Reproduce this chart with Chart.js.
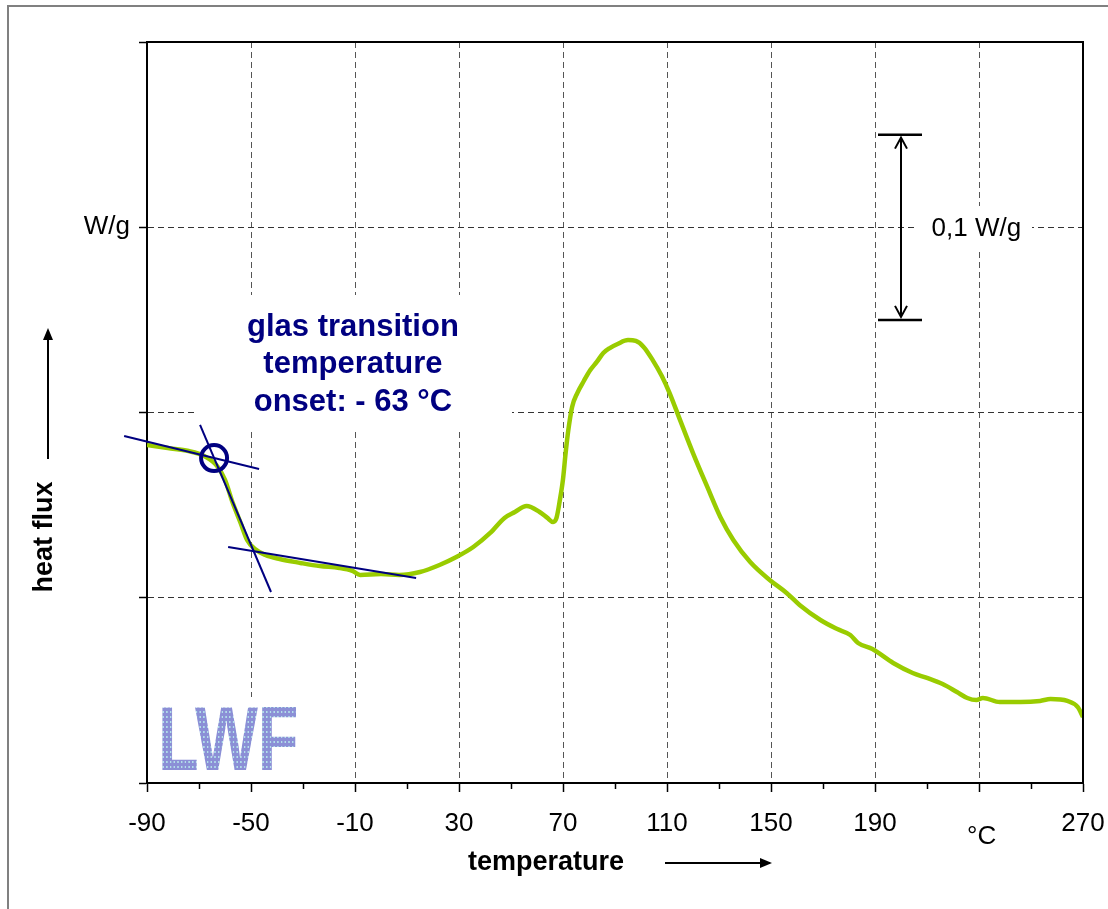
<!DOCTYPE html>
<html>
<head>
<meta charset="utf-8">
<title>DSC - glass transition</title>
<script src="https://cdn.jsdelivr.net/npm/chart.js@4.4.0/dist/chart.umd.min.js"></script>
<style>
    html, body { margin: 0; padding: 0; background: #fff; }
    #wrap { width: 1108px; height: 909px; position: relative; }
</style>
</head>
<body>
<div id="wrap"><canvas id="dscChart" width="1108" height="909"></canvas></div>
<script>
// ===== DATA =====
const tempC = [
    -90, -82, -74, -68, -63, -60, -57, -54, -51.5, -48.5, -44.5, -39, -31, -23.5, -16, -11, -8,
    0, 7, 15, 22.5, 29, 35.5, 42, 47.5, 51.5, 56, 61, 64, 66.2, 67.5, 68.8, 70, 71, 72, 73.5,
    75.5, 78, 80.5, 83, 85.5, 88, 91, 95, 98, 101, 104.5, 108, 111, 115, 120, 125.5, 130.5,
    135.5, 142, 149.5, 156, 161, 169, 175.5, 180.5, 183.5, 189, 197, 204.5, 210, 216, 221.5,
    225.5, 229, 231.5, 238, 246, 253.5, 257.5, 264, 268, 270
];
const heatFlux = [
    0.1825, 0.1808, 0.1792, 0.1765, 0.1711, 0.1636, 0.1511, 0.1404, 0.1312, 0.1263, 0.1231, 0.1209, 0.1188, 0.1171, 0.1161, 0.1145, 0.1123,
    0.1128, 0.1123, 0.1139, 0.1177, 0.1220, 0.1274, 0.1350, 0.1431, 0.1463, 0.1495, 0.1463, 0.1431, 0.1409, 0.1431, 0.1528, 0.1640, 0.1780, 0.1900, 0.2030,
    0.2105, 0.2170, 0.2229, 0.2273, 0.2321, 0.2348, 0.2370, 0.2391, 0.2386, 0.2354, 0.2283, 0.2197, 0.2105, 0.1960, 0.1781, 0.1598, 0.1436,
    0.1312, 0.1193, 0.1096, 0.1026, 0.0961, 0.0880, 0.0831, 0.0799, 0.0756, 0.0723, 0.0648, 0.0594, 0.0567, 0.0534, 0.0491,
    0.0459, 0.0448, 0.0459, 0.0437, 0.0437, 0.0443, 0.0453, 0.0443, 0.0410, 0.0356
];

const xTickValues = [-90, -50, -10, 30, 70, 110, 150, 190, 230, 270];
const xTickLabels = ['-90', '-50', '-10', '30', '70', '110', '150', '190', '', '270'];
const xMinorTicks = [-70, -30, 10, 50, 90, 130, 170, 210, 250];
const yTickValues = [0, 0.1, 0.2, 0.3, 0.4];
const yTickLabels = ['', '', '', 'W/g', ''];

// tangent construction for the onset
const tangentBeforeX = [-98.8, -46.9];
const tangentBeforeY = [0.1873, 0.1695];
const tangentStepX = [-69.6, -42.3];
const tangentStepY = [0.1933, 0.1031];
const tangentAfterX = [-58.8, 13.5];
const tangentAfterY = [0.1274, 0.1107];
const onsetX = -64.2;
const onsetY = 0.1754;

// 0,1 W/g scale bar
const scaleBarX = 200;
const scaleBarY = [0.25, 0.35];
const scaleBarLabel = '0,1 W/g';

const noteLines = ['glas transition', 'temperature', 'onset: - 63 °C'];

const FONT = "Arial, 'Liberation Sans', sans-serif";
const NAVY = '#000080';
const GREEN = '#99CC00';

function toPoints(xs, ys) {
    return xs.map((x, i) => ({ x: x, y: ys[i] }));
}

function drawArrowHead(ctx, x, y, angle, len, half, filled) {
    ctx.beginPath();
    ctx.moveTo(x - len * Math.cos(angle) + half * Math.sin(angle), y - len * Math.sin(angle) - half * Math.cos(angle));
    ctx.lineTo(x, y);
    ctx.lineTo(x - len * Math.cos(angle) - half * Math.sin(angle), y - len * Math.sin(angle) + half * Math.cos(angle));
    if (filled) {
        ctx.closePath();
        ctx.fill();
    } else {
        ctx.stroke();
    }
}

function makeDotPattern(ctx) {
    const c = document.createElement('canvas');
    c.width = 5; c.height = 5;
    const p = c.getContext('2d');
    p.fillStyle = '#8b8fd6';
    p.fillRect(0, 0, 5, 5);
    p.fillStyle = '#b2dfea';
    p.fillRect(1, 1, 2, 2);
    return ctx.createPattern(c, 'repeat');
}

// ===== DECORATIONS PLUGIN =====
const decorations = {
    id: 'decorations',
    beforeDatasetsDraw(chart) {
        const ctx = chart.ctx;
        ctx.save();
        ctx.fillStyle = '#fff';
        // box behind the note text
        ctx.fillRect(195, 295, 317, 133);
        // box behind the scale bar label
        ctx.fillRect(915, 206, 117, 46);
        // box behind the logo
        ctx.fillRect(160, 697, 150, 84);
        ctx.restore();
    },
    afterDatasetsDraw(chart) {
        const ctx = chart.ctx;
        const ca = chart.chartArea;
        const xs = chart.scales.x;
        const ys = chart.scales.y;
        ctx.save();

        // top and right frame of the plot
        ctx.strokeStyle = '#000';
        ctx.lineWidth = 2;
        ctx.beginPath();
        ctx.moveTo(ca.left, ca.top);
        ctx.lineTo(ca.right, ca.top);
        ctx.lineTo(ca.right, ca.bottom);
        ctx.stroke();

        // minor ticks on the x axis
        ctx.lineWidth = 1.5;
        xMinorTicks.forEach(v => {
            const px = Math.round(xs.getPixelForValue(v)) + 0.5;
            ctx.beginPath();
            ctx.moveTo(px, ca.bottom);
            ctx.lineTo(px, ca.bottom + 6);
            ctx.stroke();
        });

        // scale bar
        const bx = xs.getPixelForValue(scaleBarX);
        const bTop = ys.getPixelForValue(scaleBarY[1]);
        const bBot = ys.getPixelForValue(scaleBarY[0]);
        ctx.lineWidth = 2.5;
        ctx.beginPath();
        ctx.moveTo(bx - 23, bTop); ctx.lineTo(bx + 21, bTop);
        ctx.moveTo(bx - 23, bBot); ctx.lineTo(bx + 21, bBot);
        ctx.stroke();
        ctx.lineWidth = 2;
        ctx.beginPath();
        ctx.moveTo(bx, bTop + 3); ctx.lineTo(bx, bBot - 3);
        ctx.stroke();
        drawArrowHead(ctx, bx, bTop + 3, -Math.PI / 2, 11, 6, false);
        drawArrowHead(ctx, bx, bBot - 3, Math.PI / 2, 11, 6, false);

        ctx.fillStyle = '#000';
        ctx.font = '26px ' + FONT;
        ctx.textAlign = 'center';
        ctx.textBaseline = 'middle';
        ctx.fillText(scaleBarLabel, xs.getPixelForValue(229), ys.getPixelForValue(0.3) + 2);

        // unit label in place of the 230 tick
        ctx.fillText('°C', xs.getPixelForValue(231), ca.bottom + 54);

        // note text
        ctx.fillStyle = NAVY;
        ctx.font = 'bold 31px ' + FONT;
        const noteX = xs.getPixelForValue(-10.8);
        const noteY = [327, 364, 402];
        noteLines.forEach((t, i) => ctx.fillText(t, noteX, noteY[i]));

        // axis titles with arrows
        ctx.fillStyle = '#000';
        ctx.strokeStyle = '#000';
        ctx.font = 'bold 27px ' + FONT;
        ctx.fillText('temperature', 546, 863);
        ctx.lineWidth = 2;
        ctx.beginPath();
        ctx.moveTo(665, 863); ctx.lineTo(770, 863);
        ctx.stroke();
        drawArrowHead(ctx, 772, 863, 0, 12, 5, true);

        ctx.save();
        ctx.translate(45, 537);
        ctx.rotate(-Math.PI / 2);
        ctx.fillText('heat flux', 0, 0);
        ctx.restore();
        ctx.beginPath();
        ctx.moveTo(48, 459); ctx.lineTo(48, 334);
        ctx.stroke();
        drawArrowHead(ctx, 48, 328, -Math.PI / 2, 12, 5, true);

        // logo
        ctx.save();
        ctx.translate(158, 770);
        ctx.scale(0.74, 1);
        ctx.fillStyle = makeDotPattern(ctx);
        ctx.font = 'bold 90px ' + FONT;
        ctx.textAlign = 'left';
        ctx.textBaseline = 'alphabetic';
        ctx.fillText('LWF', 0, 0);
        ctx.restore();

        // outer frame
        ctx.strokeStyle = '#808080';
        ctx.lineWidth = 2;
        ctx.strokeRect(8, 6, 1110, 912);

        ctx.restore();
    }
};

// ===== CHART =====
function initDscChart() {
    const ctx = document.getElementById('dscChart');
    if (!ctx || typeof Chart === 'undefined') return;

    new Chart(ctx, {
        type: 'line',
        data: {
            datasets: [
                {
                    label: 'onset',
                    data: [{ x: onsetX, y: onsetY }],
                    showLine: false,
                    pointStyle: 'circle',
                    pointRadius: 13,
                    pointBorderWidth: 4,
                    pointBorderColor: NAVY,
                    pointBackgroundColor: 'rgba(0, 0, 0, 0)',
                    clip: false,
                    order: 0
                },
                {
                    label: 'tangent before',
                    data: toPoints(tangentBeforeX, tangentBeforeY),
                    borderColor: NAVY, borderWidth: 2, pointRadius: 0, clip: false, order: 1
                },
                {
                    label: 'tangent step',
                    data: toPoints(tangentStepX, tangentStepY),
                    borderColor: NAVY, borderWidth: 2, pointRadius: 0, clip: false, order: 1
                },
                {
                    label: 'tangent after',
                    data: toPoints(tangentAfterX, tangentAfterY),
                    borderColor: NAVY, borderWidth: 2, pointRadius: 0, clip: false, order: 1
                },
                {
                    label: 'heat flux',
                    data: toPoints(tempC, heatFlux),
                    borderColor: GREEN,
                    borderWidth: 4.5,
                    pointRadius: 0,
                    cubicInterpolationMode: 'monotone',
                    order: 2
                }
            ]
        },
        options: {
            responsive: false,
            animation: false,
            devicePixelRatio: 1,
            layout: { padding: { top: 42, right: 25, bottom: 0, left: 0 } },
            plugins: {
                legend: { display: false },
                tooltip: { enabled: false }
            },
            scales: {
                x: {
                    type: 'linear',
                    min: -90,
                    max: 270,
                    afterBuildTicks: function (s) { s.ticks = xTickValues.map(v => ({ value: v })); },
                    afterFit: function (s) {
                        s.height = 126;
                        s.paddingLeft = 0;
                        s.paddingRight = 0;
                    },
                    grid: {
                        color: '#555',
                        lineWidth: 1,
                        tickColor: '#000',
                        tickLength: 9,
                        tickWidth: 1.5
                    },
                    border: { color: '#000', width: 2, dash: [6, 4] },
                    ticks: {
                        callback: function (v) { return xTickLabels[xTickValues.indexOf(v)]; },
                        font: { size: 26, family: FONT },
                        color: '#000',
                        padding: 16,
                        maxRotation: 0,
                        autoSkip: false
                    }
                },
                y: {
                    type: 'linear',
                    min: 0,
                    max: 0.4,
                    afterBuildTicks: function (s) { s.ticks = yTickValues.map(v => ({ value: v })); },
                    afterFit: function (s) {
                        s.width = 147;
                        s.paddingTop = 0;
                        s.paddingBottom = 0;
                    },
                    grid: {
                        color: function (c) {
                            if (c.tick && (c.tick.value === 0 || c.tick.value === 0.4)) return 'rgba(0, 0, 0, 0)';
                            return '#333';
                        },
                        lineWidth: 1,
                        tickColor: '#000',
                        tickLength: 8,
                        tickWidth: 1.5
                    },
                    border: { color: '#000', width: 2, dash: [6, 4] },
                    ticks: {
                        callback: function (v) { return yTickLabels[yTickValues.indexOf(v)]; },
                        font: { size: 26, family: FONT },
                        color: '#000',
                        padding: 9,
                        autoSkip: false
                    }
                }
            }
        },
        plugins: [decorations]
    });
}

initDscChart();
</script>
</body>
</html>
